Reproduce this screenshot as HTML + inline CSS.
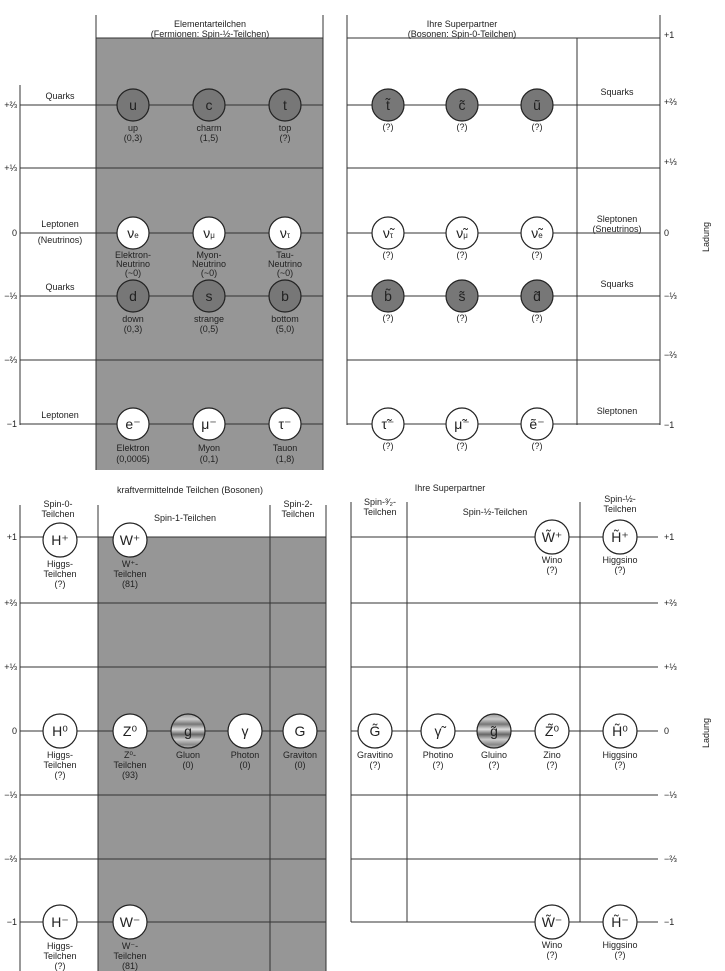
<!DOCTYPE html><html><head><meta charset="utf-8"><style>body{margin:0;background:#fff}svg{display:block}text{font-family:"Liberation Sans",sans-serif;fill:#222}</style></head><body>
<svg width="725" height="971" viewBox="0 0 725 971" xmlns="http://www.w3.org/2000/svg">
<defs><linearGradient id="gl" x1="0" y1="0" x2="0" y2="1"><stop offset="0" stop-color="#999"/><stop offset=".15" stop-color="#ccc"/><stop offset=".3" stop-color="#777"/><stop offset=".45" stop-color="#ddd"/><stop offset=".6" stop-color="#666"/><stop offset=".75" stop-color="#ccc"/><stop offset=".9" stop-color="#888"/><stop offset="1" stop-color="#bbb"/></linearGradient></defs>
<g stroke="#333" stroke-width="1" fill="none">
<rect x="96" y="38" width="227" height="432" fill="#969696" stroke="none"/>
<line x1="96" y1="15" x2="96" y2="470"/><line x1="323" y1="15" x2="323" y2="470"/><line x1="96" y1="38" x2="323" y2="38"/>
<line x1="20" y1="85" x2="20" y2="425"/>
<line x1="20" y1="105" x2="323" y2="105"/><line x1="20" y1="168" x2="323" y2="168"/><line x1="20" y1="233" x2="323" y2="233"/><line x1="20" y1="296" x2="323" y2="296"/><line x1="20" y1="360" x2="323" y2="360"/><line x1="20" y1="424" x2="323" y2="424"/>
<line x1="347" y1="15" x2="347" y2="425"/><line x1="660" y1="15" x2="660" y2="425"/><line x1="577" y1="38" x2="577" y2="425"/><line x1="347" y1="38" x2="660" y2="38"/>
<line x1="347" y1="105" x2="660" y2="105"/><line x1="347" y1="168" x2="660" y2="168"/><line x1="347" y1="233" x2="660" y2="233"/><line x1="347" y1="296" x2="660" y2="296"/><line x1="347" y1="360" x2="660" y2="360"/><line x1="347" y1="424" x2="660" y2="424"/>
<rect x="98" y="537" width="228" height="434" fill="#969696" stroke="none"/>
<line x1="20" y1="505" x2="20" y2="971"/><line x1="98" y1="505" x2="98" y2="971"/><line x1="270" y1="505" x2="270" y2="971"/><line x1="326" y1="505" x2="326" y2="971"/>
<line x1="20" y1="537" x2="326" y2="537"/><line x1="20" y1="603" x2="326" y2="603"/><line x1="20" y1="667" x2="326" y2="667"/><line x1="20" y1="731" x2="326" y2="731"/><line x1="20" y1="795" x2="326" y2="795"/><line x1="20" y1="859" x2="326" y2="859"/><line x1="20" y1="922" x2="326" y2="922"/>
<line x1="351" y1="502" x2="351" y2="922"/><line x1="407" y1="502" x2="407" y2="922"/><line x1="580" y1="502" x2="580" y2="922"/>
<line x1="351" y1="537" x2="658" y2="537"/><line x1="351" y1="603" x2="658" y2="603"/><line x1="351" y1="667" x2="658" y2="667"/><line x1="351" y1="731" x2="658" y2="731"/><line x1="351" y1="795" x2="658" y2="795"/><line x1="351" y1="859" x2="658" y2="859"/><line x1="351" y1="922" x2="658" y2="922"/>
</g>
<g stroke="#222" stroke-width="1.2">
<g fill="#777"><circle cx="133" cy="105" r="16"/><circle cx="209" cy="105" r="16"/><circle cx="285" cy="105" r="16"/><circle cx="133" cy="296" r="16"/><circle cx="209" cy="296" r="16"/><circle cx="285" cy="296" r="16"/>
<circle cx="388" cy="105" r="16"/><circle cx="462" cy="105" r="16"/><circle cx="537" cy="105" r="16"/><circle cx="388" cy="296" r="16"/><circle cx="462" cy="296" r="16"/><circle cx="537" cy="296" r="16"/></g>
<g fill="#fff"><circle cx="133" cy="233" r="16"/><circle cx="209" cy="233" r="16"/><circle cx="285" cy="233" r="16"/><circle cx="133" cy="424" r="16"/><circle cx="209" cy="424" r="16"/><circle cx="285" cy="424" r="16"/>
<circle cx="388" cy="233" r="16"/><circle cx="462" cy="233" r="16"/><circle cx="537" cy="233" r="16"/><circle cx="388" cy="424" r="16"/><circle cx="462" cy="424" r="16"/><circle cx="537" cy="424" r="16"/>
<circle cx="60" cy="540" r="17"/><circle cx="130" cy="540" r="17"/><circle cx="60" cy="731" r="17"/><circle cx="130" cy="731" r="17"/><circle cx="245" cy="731" r="17"/><circle cx="300" cy="731" r="17"/><circle cx="60" cy="922" r="17"/><circle cx="130" cy="922" r="17"/>
<circle cx="375" cy="731" r="17"/><circle cx="438" cy="731" r="17"/><circle cx="552" cy="731" r="17"/><circle cx="620" cy="731" r="17"/><circle cx="552" cy="537" r="17"/><circle cx="620" cy="537" r="17"/><circle cx="552" cy="922" r="17"/><circle cx="620" cy="922" r="17"/></g>
<circle cx="188" cy="731" r="17" fill="url(#gl)"/><circle cx="494" cy="731" r="17" fill="url(#gl)"/>
</g>
<g font-size="14" text-anchor="middle">
<text x="133" y="110">u</text><text x="209" y="110">c</text><text x="285" y="110">t</text>
<text x="133" y="238">ν<tspan font-size="8">e</tspan></text><text x="209" y="238">ν<tspan font-size="8">μ</tspan></text><text x="285" y="238">ν<tspan font-size="8">τ</tspan></text>
<text x="133" y="301">d</text><text x="209" y="301">s</text><text x="285" y="301">b</text>
<text x="133" y="429">e⁻</text><text x="209" y="429">μ⁻</text><text x="285" y="429">τ⁻</text>
<text x="388" y="110">t̃</text><text x="462" y="110">c̃</text><text x="537" y="110">ũ</text>
<text x="388" y="238">ν̃<tspan font-size="8">τ</tspan></text><text x="462" y="238">ν̃<tspan font-size="8">μ</tspan></text><text x="537" y="238">ν̃<tspan font-size="8">e</tspan></text>
<text x="388" y="301">b̃</text><text x="462" y="301">s̃</text><text x="537" y="301">d̃</text>
<text x="388" y="429">τ̃⁻</text><text x="462" y="429">μ̃⁻</text><text x="537" y="429">ẽ⁻</text>
<text x="60" y="545">H⁺</text><text x="130" y="545">W⁺</text><text x="60" y="736">H⁰</text><text x="130" y="736">Z⁰</text><text x="188" y="736">g</text><text x="245" y="736">γ</text><text x="300" y="736">G</text><text x="60" y="927">H⁻</text><text x="130" y="927">W⁻</text>
<text x="375" y="736">G̃</text><text x="438" y="736">γ̃</text><text x="494" y="736">g̃</text><text x="552" y="736">Z̃⁰</text><text x="620" y="736">H̃⁰</text><text x="552" y="542">W̃⁺</text><text x="620" y="542">H̃⁺</text><text x="552" y="927">W̃⁻</text><text x="620" y="927">H̃⁻</text>
</g>
<g font-size="9" text-anchor="middle">
<text x="210" y="27">Elementarteilchen</text><text x="210" y="37">(Fermionen: Spin-½-Teilchen)</text>
<text x="462" y="27">Ihre Superpartner</text><text x="462" y="37">(Bosonen: Spin-0-Teilchen)</text>
<text x="133" y="131">up</text><text x="133" y="141">(0,3)</text><text x="209" y="131">charm</text><text x="209" y="141">(1,5)</text><text x="285" y="131">top</text><text x="285" y="141">(?)</text>
<text x="133" y="258">Elektron-</text><text x="133" y="267">Neutrino</text><text x="133" y="276">(~0)</text><text x="209" y="258">Myon-</text><text x="209" y="267">Neutrino</text><text x="209" y="276">(~0)</text><text x="285" y="258">Tau-</text><text x="285" y="267">Neutrino</text><text x="285" y="276">(~0)</text>
<text x="133" y="322">down</text><text x="133" y="332">(0,3)</text><text x="209" y="322">strange</text><text x="209" y="332">(0,5)</text><text x="285" y="322">bottom</text><text x="285" y="332">(5,0)</text>
<text x="133" y="451">Elektron</text><text x="133" y="462">(0,0005)</text><text x="209" y="451">Myon</text><text x="209" y="462">(0,1)</text><text x="285" y="451">Tauon</text><text x="285" y="462">(1,8)</text>
<text x="388" y="130">(?)</text><text x="462" y="130">(?)</text><text x="537" y="130">(?)</text><text x="388" y="258">(?)</text><text x="462" y="258">(?)</text><text x="537" y="258">(?)</text><text x="388" y="321">(?)</text><text x="462" y="321">(?)</text><text x="537" y="321">(?)</text><text x="388" y="449">(?)</text><text x="462" y="449">(?)</text><text x="537" y="449">(?)</text>
<text x="617" y="95">Squarks</text><text x="617" y="222">Sleptonen</text><text x="617" y="232">(Sneutrinos)</text><text x="617" y="287">Squarks</text><text x="617" y="414">Sleptonen</text>
<text x="60" y="99">Quarks</text><text x="60" y="227">Leptonen</text><text x="60" y="243">(Neutrinos)</text><text x="60" y="290">Quarks</text><text x="60" y="418">Leptonen</text>
<text x="190" y="493">kraftvermittelnde Teilchen (Bosonen)</text>
<text x="58" y="507">Spin-0-</text><text x="58" y="517">Teilchen</text><text x="185" y="521">Spin-1-Teilchen</text><text x="298" y="507">Spin-2-</text><text x="298" y="517">Teilchen</text>
<text x="60" y="567">Higgs-</text><text x="60" y="577">Teilchen</text><text x="60" y="587">(?)</text><text x="130" y="567">W⁺-</text><text x="130" y="577">Teilchen</text><text x="130" y="587">(81)</text>
<text x="60" y="758">Higgs-</text><text x="60" y="768">Teilchen</text><text x="60" y="778">(?)</text><text x="130" y="758">Z⁰-</text><text x="130" y="768">Teilchen</text><text x="130" y="778">(93)</text>
<text x="188" y="758">Gluon</text><text x="188" y="768">(0)</text><text x="245" y="758">Photon</text><text x="245" y="768">(0)</text><text x="300" y="758">Graviton</text><text x="300" y="768">(0)</text>
<text x="60" y="949">Higgs-</text><text x="60" y="959">Teilchen</text><text x="60" y="969">(?)</text><text x="130" y="949">W⁻-</text><text x="130" y="959">Teilchen</text><text x="130" y="969">(81)</text>
<text x="450" y="491">Ihre Superpartner</text>
<text x="380" y="505">Spin-³⁄₂-</text><text x="380" y="515">Teilchen</text><text x="495" y="515">Spin-½-Teilchen</text><text x="620" y="502">Spin-½-</text><text x="620" y="512">Teilchen</text>
<text x="552" y="563">Wino</text><text x="552" y="573">(?)</text><text x="620" y="563">Higgsino</text><text x="620" y="573">(?)</text>
<text x="375" y="758">Gravitino</text><text x="375" y="768">(?)</text><text x="438" y="758">Photino</text><text x="438" y="768">(?)</text><text x="494" y="758">Gluino</text><text x="494" y="768">(?)</text><text x="552" y="758">Zino</text><text x="552" y="768">(?)</text><text x="620" y="758">Higgsino</text><text x="620" y="768">(?)</text>
<text x="552" y="948">Wino</text><text x="552" y="958">(?)</text><text x="620" y="948">Higgsino</text><text x="620" y="958">(?)</text>
</g>
<g font-size="9" text-anchor="end">
<text x="17" y="108">+⅔</text><text x="17" y="171">+⅓</text><text x="17" y="236">0</text><text x="17" y="299">−⅓</text><text x="17" y="363">−⅔</text><text x="17" y="427">−1</text>
<text x="17" y="540">+1</text><text x="17" y="606">+⅔</text><text x="17" y="670">+⅓</text><text x="17" y="734">0</text><text x="17" y="798">−⅓</text><text x="17" y="862">−⅔</text><text x="17" y="925">−1</text>
</g>
<g font-size="9">
<text x="664" y="38">+1</text><text x="664" y="105">+⅔</text><text x="664" y="165">+⅓</text><text x="664" y="236">0</text><text x="664" y="299">−⅓</text><text x="664" y="358">−⅔</text><text x="664" y="428">−1</text>
<text x="664" y="540">+1</text><text x="664" y="606">+⅔</text><text x="664" y="670">+⅓</text><text x="664" y="734">0</text><text x="664" y="798">−⅓</text><text x="664" y="862">−⅔</text><text x="664" y="925">−1</text>
<text transform="translate(709,252) rotate(-90)">Ladung</text><text transform="translate(709,748) rotate(-90)">Ladung</text>
</g>
</svg></body></html>
